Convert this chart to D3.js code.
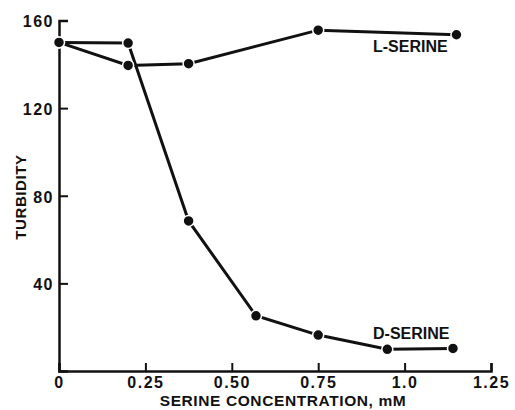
<!DOCTYPE html>
<html>
<head>
<meta charset="utf-8">
<script src="https://cdn.jsdelivr.net/npm/d3@7"></script>
<style>
  body { margin: 0; background: #fff; }
  text { font-family: "Liberation Sans", Arial, sans-serif; font-weight: bold; fill: #111; }
</style>
</head>
<body>
<svg id="chart" width="515" height="410"></svg>
<script>
// serine concentration (mM) and turbidity
let lSerineX = [0, 0.2, 0.375, 0.75, 1.15];
let lSerineY = [150, 139.5, 140.3, 155.6, 153.5];
let dSerineX = [0, 0.2, 0.375, 0.57, 0.75, 0.95, 1.14];
let dSerineY = [150, 149.7, 68.5, 25.2, 16.4, 9.9, 10.3];
let xTicks = [0, 0.25, 0.5, 0.75, 1.0, 1.25];
let xTickLabels = ["0", "0.25", "0.50", "0.75", "1.0", "1.25"];
let yTicks = [40, 80, 120, 160];

let svg = d3.select("#chart");
let ink = "#111";

let x = d3.scaleLinear().domain([0, 1.25]).range([59, 491]);
let y = d3.scaleLinear().domain([0, 160]).range([371, 20.5]);

// axes, ticks pointing inward
let xAxis = d3.axisBottom(x)
  .tickValues(xTicks)
  .tickSize(-8)
  .tickFormat((d, i) => xTickLabels[i]);

let gx = svg.append("g")
  .attr("transform", "translate(0," + y(0) + ")")
  .call(xAxis);
gx.select(".domain").attr("stroke", ink).attr("stroke-width", 2.5);
gx.selectAll(".tick line").attr("stroke", ink).attr("stroke-width", 2);
gx.selectAll(".tick text")
  .attr("y", 6)
  .style("font-size", "16px")
  .style("letter-spacing", "1.5px")
  .attr("fill", ink);

let yAxis = d3.axisLeft(y)
  .tickValues(yTicks)
  .tickSize(-9);

let gy = svg.append("g")
  .attr("transform", "translate(" + x(0) + ",0)")
  .call(yAxis);
gy.select(".domain").attr("stroke", ink).attr("stroke-width", 2.5);
gy.selectAll(".tick line").attr("stroke", ink).attr("stroke-width", 2);
gy.selectAll(".tick text")
  .attr("x", -5)
  .attr("dy", "0.4em")
  .style("font-size", "16px")
  .style("letter-spacing", "1.5px")
  .attr("fill", ink);

// axis titles
svg.append("text")
  .attr("x", 283)
  .attr("y", 406)
  .attr("text-anchor", "middle")
  .style("font-size", "15.5px")
  .style("letter-spacing", "0.6px")
  .text("SERINE CONCENTRATION, mM");

svg.append("text")
  .attr("transform", "translate(26,197) rotate(-90)")
  .attr("text-anchor", "middle")
  .style("font-size", "15px")
  .style("letter-spacing", "0.6px")
  .text("TURBIDITY");

// series
function drawSeries(xs, ys) {
  let pts = xs.map((d, i) => [d, ys[i]]);
  let line = d3.line().x(d => x(d[0])).y(d => y(d[1]));
  svg.append("path")
    .datum(pts)
    .attr("d", line)
    .attr("fill", "none")
    .attr("stroke", ink)
    .attr("stroke-width", 3);
  svg.append("g")
    .selectAll("circle")
    .data(pts)
    .enter()
    .append("circle")
    .attr("cx", d => x(d[0]))
    .attr("cy", d => y(d[1]))
    .attr("r", 5.5)
    .attr("fill", ink)
    .attr("stroke", "#fff")
    .attr("stroke-width", 1.5);
}
drawSeries(dSerineX, dSerineY);
drawSeries(lSerineX, lSerineY);

// series labels
svg.append("text")
  .attr("x", 373)
  .attr("y", 52)
  .style("font-size", "16px")
  .text("L-SERINE");

svg.append("text")
  .attr("x", 373)
  .attr("y", 339)
  .style("font-size", "16px")
  .text("D-SERINE");
</script>
</body>
</html>
